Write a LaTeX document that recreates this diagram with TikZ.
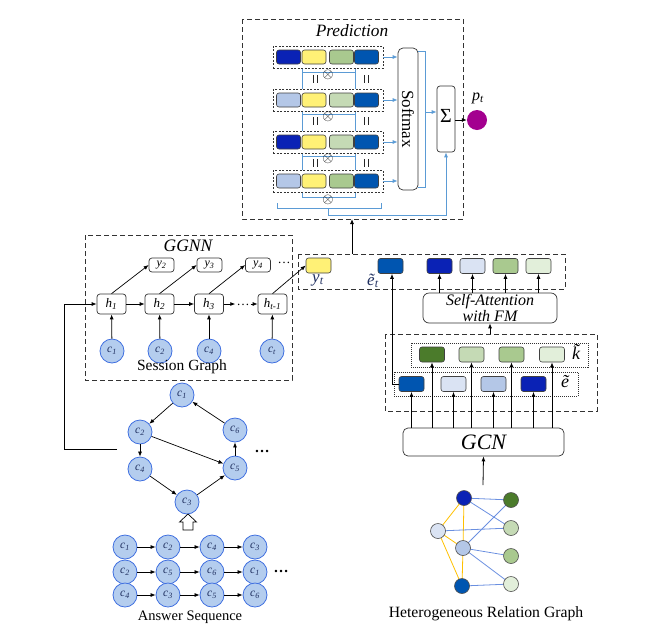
\documentclass[tikz,border=0pt]{standalone}
\usepackage{fontspec}
\setmainfont{Liberation Serif}
\usetikzlibrary{arrows.meta}
\definecolor{dblue}{HTML}{0A22B5}
\definecolor{mblue}{HTML}{0055B0}
\definecolor{lblue}{HTML}{B4C7E7}
\definecolor{pblue}{HTML}{DAE3F3}
\definecolor{yel}{HTML}{FFF176}
\definecolor{grn}{HTML}{A9C98F}
\definecolor{lgrn}{HTML}{C5DAB5}
\definecolor{pgrn}{HTML}{E2EFDA}
\definecolor{dgrn}{HTML}{4B7B2B}
\definecolor{cfill}{HTML}{B4CDEE}
\definecolor{cdraw}{HTML}{3F6FE0}
\definecolor{lineblue}{HTML}{5B9BD5}
\definecolor{hgblue}{HTML}{6A8FE0}
\definecolor{hgyel}{HTML}{FFC000}
\definecolor{magent}{HTML}{A3008F}
\definecolor{navy}{HTML}{1F2F5F}
\newcommand\mylab[2]{\textit{#1}\textsubscript{\textit{#2}}}
\newcommand\fs[1]{\fontsize{#1}{#1}\selectfont}
\tikzset{
  arr/.style={-{Latex[length=5pt,width=4pt]}},
  barr/.style={lineblue, line width=0.8pt, -{Latex[length=5pt,width=4pt]}},
  bline/.style={lineblue, line width=0.8pt},
  cell/.style={rectangle, rounded corners=2.5pt, draw=black!75, line width=0.6pt, minimum width=24pt, minimum height=14pt, inner sep=0pt},
  ocell/.style={cell, minimum width=25pt, minimum height=15pt},
  rowframe/.style={rectangle, draw=black!80, dash pattern=on 2pt off 1.5pt, fill=white, line width=0.6pt, minimum width=110pt, minimum height=22pt, inner sep=0pt},
  bigframe/.style={draw=black!80, dash pattern=on 5pt off 3pt, line width=0.8pt},
  dotframe/.style={draw=black!80, dash pattern=on 1pt off 1pt, line width=0.7pt},
  hbox/.style={rectangle, rounded corners=3pt, draw=black!80, line width=0.7pt, minimum width=29pt, minimum height=20pt, inner sep=0pt, font=\fs{13}\itshape},
  ybox/.style={rectangle, rounded corners=3pt, draw=black!80, line width=0.7pt, minimum width=25pt, minimum height=14pt, inner sep=0pt, font=\fs{12}\itshape},
  cnode/.style={circle, draw=cdraw, fill=cfill, line width=0.8pt, minimum size=24pt, inner sep=0pt, font=\fs{11.5}\itshape, text=navy},
  hgnode/.style={circle, draw=black!70, line width=0.6pt, minimum size=15pt, inner sep=0pt},
  rbox/.style={rectangle, rounded corners=5pt, draw=black!80, line width=0.7pt, inner sep=0pt},
  hgy/.style={hgyel, line width=0.8pt},
  hgb/.style={hgblue, line width=0.8pt},
  eqmark/.style={black!85, line width=0.8pt},
}
\begin{document}
\begin{tikzpicture}[x=1pt,y=-1pt]
\useasboundingbox (0,0) rectangle (663,643);
% ================= Prediction =================
\draw[bigframe] (242,19) rectangle (463,219);
\node[font=\fs{17.3}\itshape] (predtitle) at (352,31) {Prediction};
\node[rbox, minimum width=20pt, minimum height=142pt] (sm) at (408,119) {};
\node[rotate=-90, font=\fs{17}] (smtext) at (408,119) {Softmax};
\node[rbox, rounded corners=3pt, minimum width=18pt, minimum height=66pt] (sig) at (446,119) {};
\node[font=\fs{20}] (sigtext) at (446,116) {Σ};
\node[circle, fill=magent, minimum size=20pt, inner sep=0pt] (pt) at (477,120) {};
\node[font=\fs{16}] (ptlab) at (478,98) {\mylab{p}{t}};
\draw[arr, line width=0.8pt] (sig.east |- pt) -- (pt.west);
% blue lines behind rows
\draw[bline] (302,68) -- (302,197) -- (355,197) -- (355,68);
\foreach \yy in {72,114,156} { \draw[bline] (302,\yy) -- (355,\yy); }
\draw[bline] (277,203) -- (277,208) -- (381,208) -- (381,203);
\draw[barr] (328,208) -- (328,215) -- (446,215) -- (sig.south);
\draw[bline] (sm.east |- 0,51) -- (425,51) -- (425,187) -- (sm.east |- 0,187);
\draw[barr] (425,112) -- (sig.west |- 0,112);
% rows
\foreach \r/\y/\ca/\cc in {1/57/dblue/grn, 2/100/lblue/lgrn, 3/142/dblue/lgrn, 4/181/lblue/grn} {
  \node[rowframe] (r\r) at (328,\y) {};
  \node[cell, fill=\ca] (r\r a) at (288.5,\y) {};
  \node[cell, fill=yel] (r\r b) at (314,\y) {};
  \node[cell, fill=\cc] (r\r c) at (341.5,\y) {};
  \node[cell, fill=mblue] (r\r d) at (366.5,\y) {};
  \draw[barr] (r\r.east) -- (sm.west |- r\r.east);
}
\foreach \yy [count=\i] in {74.5,116.5,158.5,199.5} { \node[inner sep=0pt, font=\fs{14}] (ot\i) at (328,\yy) {$\otimes$}; }
\foreach \yy in {75,117,159} {
  \draw[eqmark] (313,\yy) -- (313,\yy+8);
  \draw[eqmark] (317,\yy) -- (317,\yy+8);
  \draw[eqmark] (364,\yy) -- (364,\yy+8);
  \draw[eqmark] (368,\yy) -- (368,\yy+8);
}
% ================= GGNN =================
\draw[bigframe] (85,235) rectangle (292,380);
\node[font=\fs{17.5}\itshape] (ggtitle) at (188,246) {GGNN};
\node[hbox] (h1) at (111.5,304) {\mylab{h}{1}};
\node[hbox] (h2) at (159.5,304) {\mylab{h}{2}};
\node[hbox] (h3) at (209,304) {\mylab{h}{3}};
\node[hbox] (ht) at (272.5,304) {\mylab{h}{t-1}};
\node[inner sep=1pt, font=\fs{13}] (hd) at (243,305) {\dots};
\node[ybox] (y2) at (161.5,265) {\mylab{y}{2}};
\node[ybox] (y3) at (209.5,265) {\mylab{y}{3}};
\node[ybox] (y4) at (258,265) {\mylab{y}{4}};
\node[font=\fs{13}] (ydots) at (284,263) {\dots};
\node[cnode] (c1) at (112,351) {\mylab{c}{1}};
\node[cnode] (c2) at (160,351) {\mylab{c}{2}};
\node[cnode] (c4) at (209,351) {\mylab{c}{4}};
\node[cnode] (ct) at (272,351) {\mylab{c}{t}};
\node[font=\fs{15.5}] (sglab) at (182,367) {Session Graph};
\draw[arr, line width=0.8pt] (h1) -- (h2);
\draw[arr, line width=0.8pt] (h2) -- (h3);
\draw[arr, line width=0.8pt] (h3.east) -- (hd.west |- h3.east);
\draw[arr, line width=0.8pt] (hd.east |- ht.west) -- (ht.west);
\foreach \c/\h in {c1/h1,c2/h2,c4/h3,ct/ht} { \draw[arr, line width=0.8pt] (\c) -- (\h); }
\draw[arr, line width=0.7pt] (h1.north) -- (y2.west);
\draw[arr, line width=0.7pt] (h2.north) -- (y3.west);
\draw[arr, line width=0.7pt] (h3.north) -- (y4.west);
% ================= Output row =================
\draw[bigframe] (298,254) rectangle (565,289);
\node[ocell, fill=yel] (yt) at (318.5,265.5) {};
\node[ocell, fill=mblue] (et) at (390.5,266) {};
\node[ocell, fill=dblue] (o1) at (439.5,266) {};
\node[ocell, fill=pblue] (o2) at (472.5,266) {};
\node[ocell, fill=grn] (o3) at (505.5,266) {};
\node[ocell, fill=pgrn] (o4) at (538.5,266) {};
\node[font=\fs{17}, text=navy] (ytlab) at (318,280) {\mylab{y}{t}};
\node[font=\fs{17}, text=navy] (etlab) at (373,281) {\mylab{\~{e}}{t}};
\draw[arr, line width=0.7pt] (ht.north) -- (yt.west);
\draw[arr, line width=0.8pt] (352,254) -- (352,219);
\node[rbox, rounded corners=6pt, minimum width=134pt, minimum height=30pt, align=center, font=\fontsize{16}{13}\selectfont\itshape] (sa) at (490,308) {Self-Attention\\with FM};
\foreach \o in {o1,o2,o3,o4} { \draw[arr, line width=0.8pt] (\o.south |- sa.north) -- (\o.south); }
% ================= Embedding =================
\draw[bigframe] (385,334) rectangle (597,411);
\draw[arr, line width=0.8pt] (490,334) -- (sa.south);
\draw[dotframe] (411,343) rectangle (588,367);
\draw[dotframe] (394,372) rectangle (578,396);
\node[ocell, fill=dgrn] (k1) at (432,354.5) {};
\node[ocell, fill=lgrn] (k2) at (471.5,354.5) {};
\node[ocell, fill=grn] (k3) at (511.5,354.5) {};
\node[ocell, fill=pgrn] (k4) at (552,354.5) {};
\node[ocell, fill=mblue] (e1) at (411.5,384) {};
\node[ocell, fill=pblue] (e2) at (453.5,384) {};
\node[ocell, fill=lblue] (e3) at (493.5,384) {};
\node[ocell, fill=dblue] (e4) at (533.5,384) {};
\node[font=\fs{18}\itshape] (klab) at (576,352) {\~{k}};
\node[font=\fs{18}\itshape] (elab) at (565,382) {\~{e}};
\draw[arr, line width=0.8pt] (e1.west) -| ([xshift=1.5pt]et.south);
\node[rbox, minimum width=161pt, minimum height=28pt, font=\fs{22}\itshape] (gcn) at (483.5,442) {GCN};
\foreach \n in {e1,k1,e2,k2,e3,k3,e4,k4} { \draw[arr, line width=0.8pt] (\n.south |- gcn.north) -- (\n.south); }
% ================= Heterogeneous graph =================
\coordinate (hgtop) at (483,485);
\draw[arr, line width=0.8pt] (hgtop) -- (gcn.south);
\coordinate (hA) at (464,498);
\coordinate (hB) at (438,531);
\coordinate (hC) at (463,548);
\coordinate (hD) at (462,586);
\coordinate (hG1) at (511,500);
\coordinate (hG2) at (511,528);
\coordinate (hG3) at (511,556);
\coordinate (hG4) at (511,584);
\draw[hgy] (hA) -- (hB); \draw[hgy] (hA) -- (hC); \draw[hgy] (hB) -- (hC);
\draw[hgy] (hB) -- (hD); \draw[hgy] (hC) -- (hD);
\draw[hgb] (hA) -- (hG1); \draw[hgb] (hA) -- (hG2); \draw[hgb] (hB) -- (hG2);
\draw[hgb] (hC) -- (hG1); \draw[hgb] (hC) -- (hG3); \draw[hgb] (hC) -- (hG4);
\draw[hgb] (hD) -- (hG4);
\node[hgnode, fill=dblue] (nA) at (hA) {};
\node[hgnode, fill=pblue] (nB) at (hB) {};
\node[hgnode, fill=lblue] (nC) at (hC) {};
\node[hgnode, fill=mblue] (nD) at (hD) {};
\node[hgnode, fill=dgrn] (nG1) at (hG1) {};
\node[hgnode, fill=lgrn] (nG2) at (hG2) {};
\node[hgnode, fill=grn] (nG3) at (hG3) {};
\node[hgnode, fill=pgrn] (nG4) at (hG4) {};
\node[font=\fs{15.7}] (hglab) at (486,614) {Heterogeneous Relation Graph};
% ================= Lower-left graph =================
\node[cnode] (g1) at (182,395) {\mylab{c}{1}};
\node[cnode] (g2) at (140,432) {\mylab{c}{2}};
\node[cnode] (g6) at (235,430) {\mylab{c}{6}};
\node[cnode] (g4) at (140,469) {\mylab{c}{4}};
\node[cnode] (g5) at (235,468) {\mylab{c}{5}};
\node[cnode] (g3) at (187,502) {\mylab{c}{3}};
\node[font=\fs{15}] (gdots) at (262,451) {\textbf{\dots}};
\foreach \a/\b in {g1/g2,g6/g1,g2/g4,g2/g5,g4/g3,g3/g5,g5/g6} { \draw[arr, line width=0.7pt] (\a) -- (\b); }
\draw[line width=0.7pt, fill=white] (183,530) -- (183,522) -- (179.5,522) -- (188,514) -- (196.5,522) -- (193,522) -- (193,530) -- cycle;
\coordinate (lstart) at (117,449);
\draw[arr, line width=0.8pt] (lstart) -- (64,449) -- (64,304) -- (h1.west);
% answer sequences
\foreach \r/\y/\p/\q/\s/\t in {1/547/1/2/4/3, 2/572/2/5/6/1, 3/595/4/3/5/6} {
  \node[cnode] (a\r1) at (125,\y) {\mylab{c}{\p}};
  \node[cnode] (a\r2) at (168,\y) {\mylab{c}{\q}};
  \node[cnode] (a\r3) at (212,\y) {\mylab{c}{\s}};
  \node[cnode] (a\r4) at (255,\y) {\mylab{c}{\t}};
  \draw[arr, line width=0.7pt] (a\r1) -- (a\r2);
  \draw[arr, line width=0.7pt] (a\r2) -- (a\r3);
  \draw[arr, line width=0.7pt] (a\r3) -- (a\r4);
}
\node[font=\fs{15}] (adots) at (281,571) {\textbf{\dots}};
\node[font=\fs{14.5}] (aslab) at (190,617) {Answer Sequence};
\end{tikzpicture}
\end{document}
